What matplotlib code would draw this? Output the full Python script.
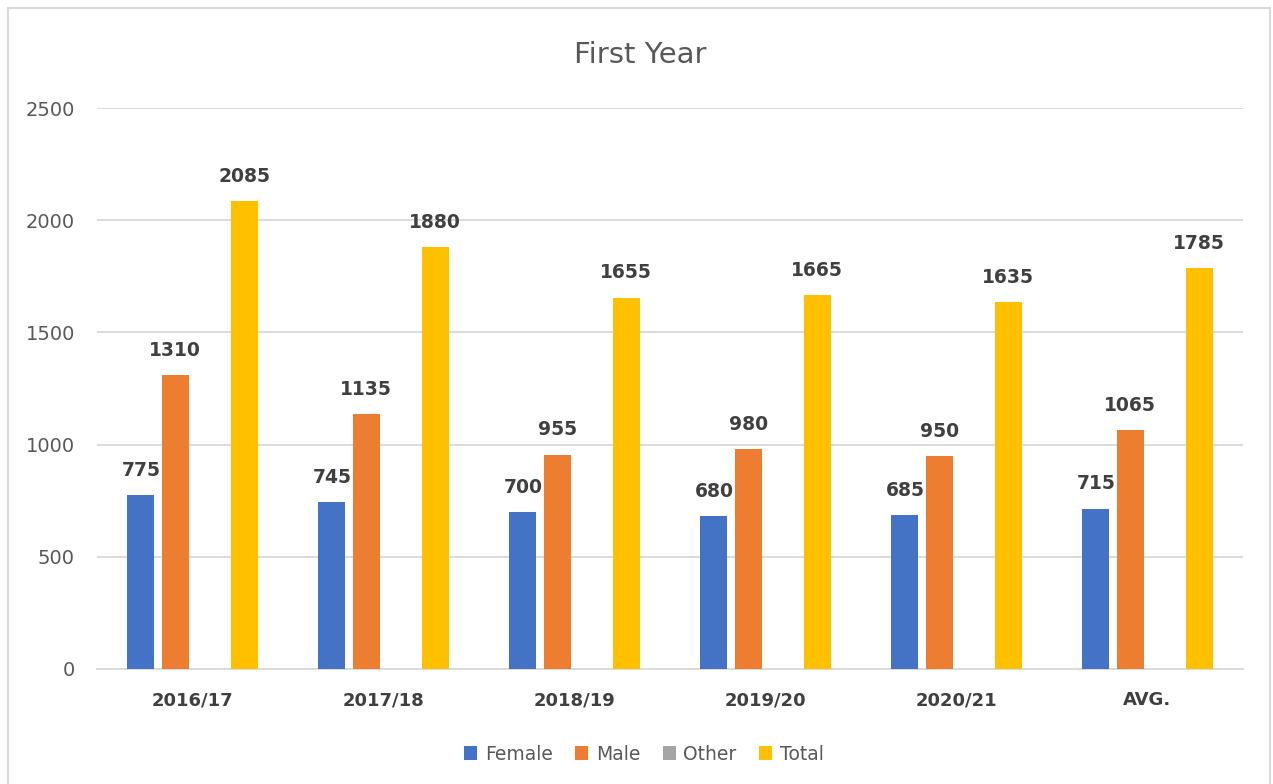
import matplotlib.pyplot as plt
from matplotlib.patches import Rectangle
import numpy as np

# chart data
years = ['2016/17', '2017/18', '2018/19', '2019/20', '2020/21', 'AVG.']
female = [775, 745, 700, 680, 685, 715]
male = [1310, 1135, 955, 980, 950, 1065]
other = [0, 0, 0, 0, 0, 0]
total = [2085, 1880, 1655, 1665, 1635, 1785]

series = [('Female', female, '#4472c4'),
          ('Male', male, '#ed7d31'),
          ('Other', other, '#a5a5a5'),
          ('Total', total, '#ffc000')]

fig = plt.figure(figsize=(12.73, 7.84), dpi=100)
ax = fig.add_axes([97 / 1273, 1 - 669 / 784, (1243 - 97) / 1273, (669 - 108) / 784])

# light grey frame around the whole chart
fig.patches.append(Rectangle((8 / 1273, -0.01), 1262 / 1273, 1 - 8 / 784 + 0.01,
                             transform=fig.transFigure, fill=False,
                             edgecolor='#d9d9d9', linewidth=1.5))

x = np.arange(len(years))
slot = 0.18
width = 0.141
for i, (name, vals, col) in enumerate(series):
    pos = x + (i - 1.5) * slot
    bars = ax.bar(pos, vals, width, color=col, label=name, zorder=3)
    if name == 'Other':
        continue
    for b, v in zip(bars, vals):
        ax.annotate(str(v), (b.get_x() + b.get_width() / 2, v),
                    xytext=(0, 11), textcoords='offset points',
                    ha='center', va='bottom', fontsize=13.5,
                    fontweight='bold', color='#404040')

ax.set_xlim(-0.5, len(years) - 0.5)
ax.set_ylim(0, 2500)
ax.set_yticks(range(0, 2501, 500))
ax.yaxis.grid(True, color='#d9d9d9', linewidth=1.3, zorder=0)
ax.set_xticks(x)
ax.set_xticklabels(years, fontsize=13, fontweight='bold', color='#404040')
ax.tick_params(axis='y', labelsize=14, labelcolor='#595959', length=0, pad=16)
ax.tick_params(axis='x', length=0, pad=16)
for s in ['top', 'right', 'left']:
    ax.spines[s].set_visible(False)
ax.spines['bottom'].set_color('#d9d9d9')
ax.spines['bottom'].set_linewidth(1.3)

fig.text(640 / 1273, 1 - 55 / 784, 'First Year', ha='center', va='center',
         fontsize=21, color='#595959')

fig.legend(loc='center', bbox_to_anchor=(644 / 1273, 1 - 754 / 784), ncol=4,
           frameon=False, fontsize=13.5, handlelength=0.7, handleheight=0.7,
           handletextpad=0.4, columnspacing=1.2, labelcolor='#595959')

fig.savefig('out.png', dpi=100)
